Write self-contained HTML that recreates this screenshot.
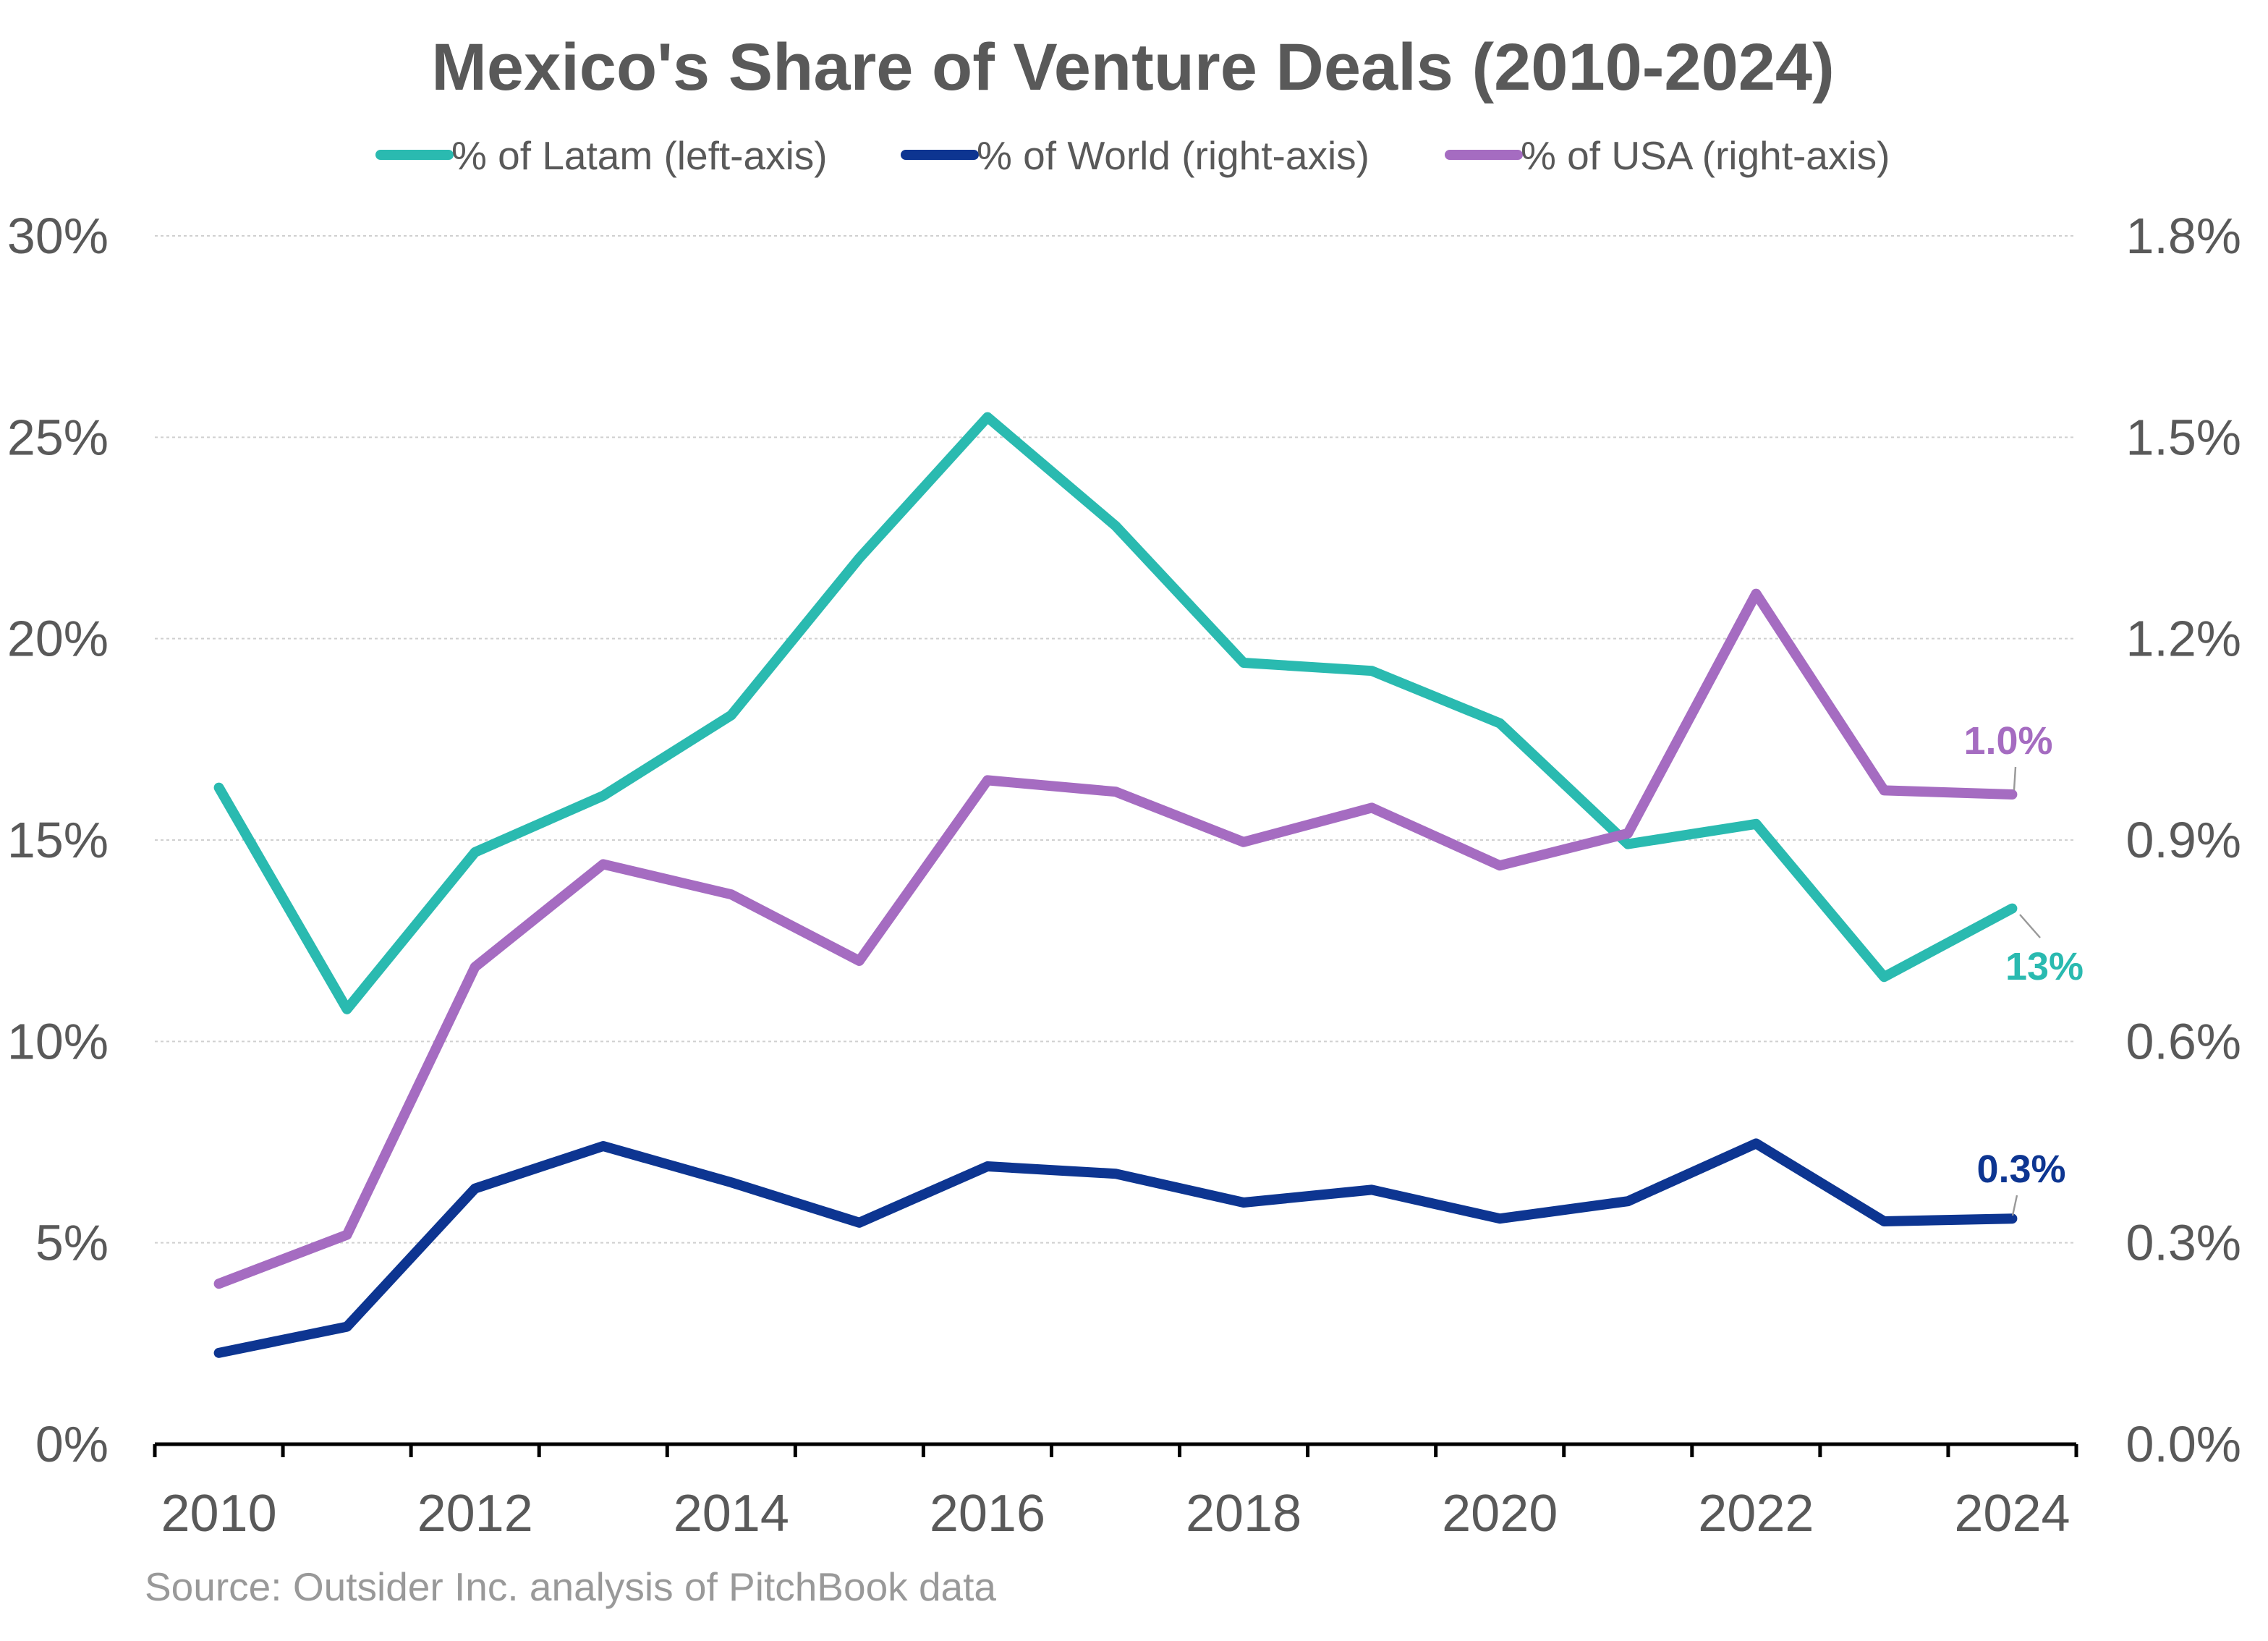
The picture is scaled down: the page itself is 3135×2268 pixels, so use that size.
<!DOCTYPE html>
<html><head><meta charset="utf-8"><style>
html,body{margin:0;padding:0;background:#fff;}
svg{display:block;}
text{font-family:"Liberation Sans",Arial,sans-serif;}
</style></head><body>
<svg id="chart" width="3135" height="2268" viewBox="0 0 1567.5 1134" xmlns="http://www.w3.org/2000/svg">
<text x="783" y="62" text-anchor="middle" font-size="46" font-weight="bold" fill="#595959">Mexico's Share of Venture Deals (2010-2024)</text>
<g font-size="27.5" fill="#595959">
<g><line x1="263" y1="107" x2="310" y2="107" stroke="#2ABAB0" stroke-width="7" stroke-linecap="round"/><text x="312" y="117">% of Latam (left-axis)</text></g>
<g><line x1="626" y1="107" x2="673" y2="107" stroke="#0D3591" stroke-width="7" stroke-linecap="round"/><text x="675" y="117">% of World (right-axis)</text></g>
<g><line x1="1002" y1="107" x2="1049" y2="107" stroke="#A56CC1" stroke-width="7" stroke-linecap="round"/><text x="1051" y="117">% of USA (right-axis)</text></g>
</g>
<g id="grid"></g>
<g id="axes"></g>
<g id="series"></g>
<g font-size="27" font-weight="bold">
<line x1="1393" y1="530" x2="1392" y2="546" stroke="#999" stroke-width="1.2"/>
<text x="1388" y="521" text-anchor="middle" fill="#A56CC1">1.0%</text>
<line x1="1396" y1="632" x2="1410" y2="648" stroke="#999" stroke-width="1.2"/>
<text x="1413" y="677" text-anchor="middle" fill="#2ABAB0">13%</text>
<line x1="1394" y1="826" x2="1391" y2="840" stroke="#999" stroke-width="1.2"/>
<text x="1397" y="817" text-anchor="middle" fill="#0D3591">0.3%</text>
</g>
<text x="100" y="1106" font-size="27.5" fill="#999">Source: Outsider Inc. analysis of PitchBook data</text>
</svg>
<script>
const years=[2010,2011,2012,2013,2014,2015,2016,2017,2018,2019,2020,2021,2022,2023,2024];
const latam=[16.3,10.8,14.7,16.1,18.1,22.0,25.5,22.8,19.4,19.2,17.9,14.9,15.4,11.6,13.3];
const world=[0.136,0.175,0.381,0.444,0.390,0.330,0.414,0.403,0.360,0.379,0.336,0.362,0.448,0.332,0.336];
const usa=[0.239,0.312,0.711,0.864,0.819,0.720,0.989,0.972,0.897,0.948,0.862,0.910,1.267,0.974,0.968];
const leftTicks=[0,5,10,15,20,25,30];
const rightTicks=["0.0%","0.3%","0.6%","0.9%","1.2%","1.5%","1.8%"];
const xLabels=[2010,2012,2014,2016,2018,2020,2022,2024];

const NS="http://www.w3.org/2000/svg";
const X0=107,X1=1435,Y0=998,Y1=163;
const band=(X1-X0)/years.length;
const xs=i=>X0+band*(i+0.5);
const yL=v=>Y0-(v/30)*(Y0-Y1);
const yR=v=>Y0-(v/1.8)*(Y0-Y1);
function mk(tag,attrs,parent){const e=document.createElementNS(NS,tag);for(const k in attrs)e.setAttribute(k,attrs[k]);parent.appendChild(e);return e;}
const grid=document.getElementById('grid'),axes=document.getElementById('axes'),series=document.getElementById('series');
leftTicks.forEach((t,i)=>{
  const y=yL(t);
  if(t>0){const g=mk('line',{x1:X0,x2:X1,y1:y,y2:y,stroke:'#d0d0d0','stroke-width':1,'stroke-dasharray':'2,2'},grid);
  
  }
  const lt=mk('text',{x:75,y:y+12,'text-anchor':'end','font-size':35,fill:'#595959'},axes);lt.textContent=t+'%';
  
  
  const rt=mk('text',{x:1549,y:y+12,'text-anchor':'end','font-size':35,fill:'#595959'},axes);rt.textContent=rightTicks[i];
  
  
});
const ax=mk('line',{x1:X0,x2:X1,y1:Y0,y2:Y0,stroke:'#000','stroke-width':2.5},axes);


for(let i=0;i<=years.length;i++){const x=X0+band*i;const tk=mk('line',{x1:x,x2:x,y1:Y0,y2:Y0+9,stroke:'#000','stroke-width':2.5},axes);
  
  }
xLabels.forEach(yr=>{const i=years.indexOf(yr);const t=mk('text',{x:xs(i),y:1058,'text-anchor':'middle','font-size':36,fill:'#595959'},axes);t.textContent=yr;
  
  });
function line(vals,fy,color,name){
  const d=vals.map((v,i)=>(i?'L':'M')+xs(i).toFixed(1)+','+fy(v).toFixed(1)).join(' ');
  const p=mk('path',{d:d,fill:'none',stroke:color,'stroke-width':7,'stroke-linejoin':'round','stroke-linecap':'round'},series);
  
  
}
line(latam,yL,'#2ABAB0','line-latam');
line(usa,yR,'#A56CC1','line-usa');
line(world,yR,'#0D3591','line-world');
</script>
</body></html>
